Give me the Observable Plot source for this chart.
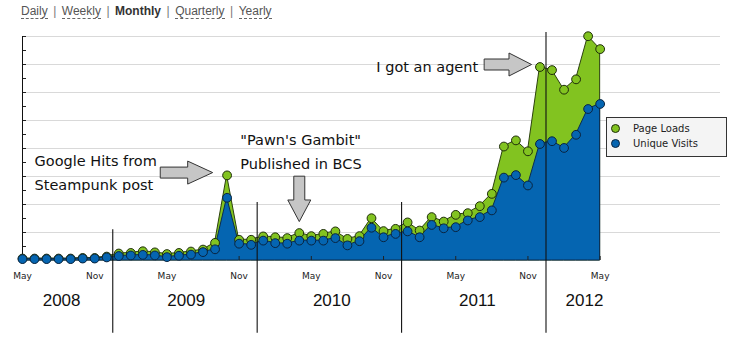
<!DOCTYPE html>
<html>
<head>
<meta charset="utf-8">
<script src="https://cdn.jsdelivr.net/npm/d3@7"></script>
<script src="https://cdn.jsdelivr.net/npm/@observablehq/plot@0.6"></script>
<style>
  body { margin: 0; background: #fff; }
  #wrap { position: relative; width: 734px; height: 351px; overflow: hidden; background: #fff; }
  #wrap svg { position: absolute; left: 0; top: 0; display: block; }
  #links { position: absolute; left: 21px; top: 4px; font: 12px "Liberation Sans", Arial, sans-serif; color: #555; white-space: nowrap; }
  #links a { color: #555; text-decoration: none; border-bottom: 1px dashed #666; }
  #links b { color: #333; }
  #links .sep { margin: 0 5.5px; color: #777; }
  #legend { position: absolute; left: 606px; top: 117px; width: 121px; height: 40px; box-sizing: border-box;
            border: 1px solid #333; background: #f4f4f4; font: 10px "DejaVu Sans", sans-serif; color: #222; }
  #legend .row { position: absolute; left: 0; height: 14px; line-height: 14px; white-space: nowrap; }
  #legend .sw { position: absolute; left: 4px; top: 2px; width: 9px; height: 9px; border-radius: 50%; box-sizing: border-box; border: 1px solid #222; }
  #legend .lb { position: absolute; left: 26px; top: 0; }
</style>
</head>
<body>
<div id="wrap"></div>
<script>
// ---- data ----
const firstMonth = "2008-05";
const pageLoads = [7, 7, 7, 7, 7, 9, 9, 14, 25, 27, 33, 29, 23, 27, 32, 39, 63, 304, 74, 74,
  86, 83, 80, 98, 87, 95, 104, 77, 87, 151, 105, 113, 136, 107, 155, 139, 163, 169, 194, 238,
  407, 429, 390, 691, 680, 610, 647, 801, 755];
const uniqueVisits = [5, 5, 5, 5, 5, 7, 7, 11, 16, 18, 20, 18, 12, 17, 21, 30, 40, 224, 60, 56,
  71, 62, 60, 71, 71, 71, 80, 54, 69, 117, 83, 95, 104, 83, 127, 115, 119, 143, 155, 179,
  296, 305, 268, 416, 426, 402, 449, 541, 559];
const seriesNames = ["Page Loads", "Unique Visits"];
const tickLabels = ["May", "Nov", "May", "Nov", "May", "Nov", "May", "Nov", "May"];
const yearLabels = ["2008", "2009", "2010", "2011", "2012"];
const yearLabelMonth = [3.25, 13.6, 25.7, 37.8, 46.7];
const yearDividerMonth = [7.5, 19.5, 31.5, 43.5];
const yearDividerTop = [110, 207, 207, 814];
const yearDividerBottom = -260;
const noteTexts = ["Google Hits from\nSteampunk post", "\"Pawn's Gambit\"\nPublished in BCS", "I got an agent"];
const noteMonth = [1.0, 18.1, 29.4];
const noteValue = [321, 397, 700];
const arrowTipMonth = [15.8, 23.0, 42.3];
const arrowTipValue = [314, 139, 700];
const arrowDirection = [90, 180, 90];
const arrowLength = [52, 45, 47];
const periods = ["Daily", "Weekly", "Monthly", "Quarterly", "Yearly"];
const activePeriod = "Monthly";

// ---- colours ----
const green = "#82c320", greenEdge = "#2c420e", greenDotEdge = "#1e2c0a";
const blue = "#0565b1", blueEdge = "#0b2c50", blueDotEdge = "#0a2440";

// ---- tables ----
const rows = pageLoads.map((pl, i) => ({i, pl, uv: uniqueVisits[i]}));
const tickIdx = tickLabels.map((_, k) => k * 6);
const years = yearLabels.map((label, k) => ({label, at: yearLabelMonth[k]}));
const dividers = yearDividerMonth.map((x, k) => ({x, top: yearDividerTop[k], bottom: yearDividerBottom}));
const notes = noteTexts.map((text, k) => ({text, x: noteMonth[k], y: noteValue[k]}));
const arrows = arrowTipMonth.map((x, k) => ({x, y: arrowTipValue[k], rot: arrowDirection[k], len: arrowLength[k]}));

const blockArrow = {
  draw(context, l) {
    const sw = 5.5, hw = 11.5, hl = l * 0.48;
    context.moveTo(-sw, 0);
    context.lineTo(-sw, -(l - hl));
    context.lineTo(-hw, -(l - hl));
    context.lineTo(0, -l);
    context.lineTo(hw, -(l - hl));
    context.lineTo(sw, -(l - hl));
    context.lineTo(sw, 0);
    context.closePath();
  }
};

const handFont = "'DejaVu Sans', sans-serif";

const chart = Plot.plot({
  width: 734,
  height: 351,
  marginTop: 36,
  marginBottom: 91,
  marginLeft: 22,
  marginRight: 14,
  x: {domain: [0, 58], axis: null},
  y: {domain: [0, 800], axis: null},
  length: {type: "identity"},
  style: {background: "transparent", fontFamily: "'DejaVu Sans', sans-serif", overflow: "visible"},
  marks: [
    Plot.gridY(d3.range(100, 801, 100), {stroke: "#d9d9d9", strokeOpacity: 1}),
    Plot.areaY(rows, {x: "i", y: "pl", fill: green, stroke: greenEdge, strokeWidth: 1}),
    Plot.areaY(rows, {x: "i", y: "uv", fill: blue, stroke: blueEdge, strokeWidth: 1}),
    Plot.axisX(tickIdx, {tickSize: -4, tickFormat: () => "", stroke: "#222"}),
    Plot.axisX(tickIdx, {tickSize: 0, tickPadding: 12, fontSize: 9, fill: "#222",
      tickFormat: d => tickLabels[tickIdx.indexOf(d)]}),
    Plot.axisY(d3.range(0, 801, 50), {anchor: "left", tickSize: -4, tickFormat: () => "", stroke: "#222"}),
    Plot.ruleX([0], {stroke: "#111"}),
    Plot.ruleX(dividers, {x: "x", y1: "bottom", y2: "top", stroke: "#111", strokeWidth: 1.1}),
    Plot.dot(rows, {x: "i", y: "pl", r: 4.4, fill: green, stroke: greenDotEdge, strokeWidth: 1}),
    Plot.dot(rows, {x: "i", y: "uv", r: 4.4, fill: blue, stroke: blueDotEdge, strokeWidth: 1}),
    Plot.text(notes, {x: "x", y: "y", text: "text", textAnchor: "start", lineAnchor: "middle",
      lineHeight: 1.65, fontSize: 14.5, fontFamily: handFont, fill: "#111"}),
    Plot.vector(arrows, {x: "x", y: "y", rotate: "rot", length: "len", anchor: "end", shape: blockArrow,
      fill: "#c6c6c6", stroke: "#333", strokeWidth: 1, strokeLinejoin: "miter"}),
    Plot.text(years, {x: "at", text: "label", frameAnchor: "bottom", dy: 45, fontSize: 17,
      fontFamily: "'Liberation Sans', Arial, sans-serif", fill: "#111"})
  ]
});

const wrap = document.getElementById("wrap");
wrap.appendChild(chart);

// period links
const links = document.createElement("div");
links.id = "links";
links.innerHTML = periods.map(p => p === activePeriod ? `<b>${p}</b>` : `<a>${p}</a>`).join('<span class="sep">|</span>');
wrap.appendChild(links);

// legend
const legend = document.createElement("div");
legend.id = "legend";
const legendColors = [[green, greenDotEdge], [blue, blueDotEdge]];
legend.innerHTML = seriesNames.map((name, k) =>
  `<div class="row" style="top:${4 + k * 15}px"><span class="sw" style="background:${legendColors[k][0]};border-color:${legendColors[k][1]}"></span><span class="lb">${name}</span></div>`
).join("");
wrap.appendChild(legend);
</script>
</body>
</html>
